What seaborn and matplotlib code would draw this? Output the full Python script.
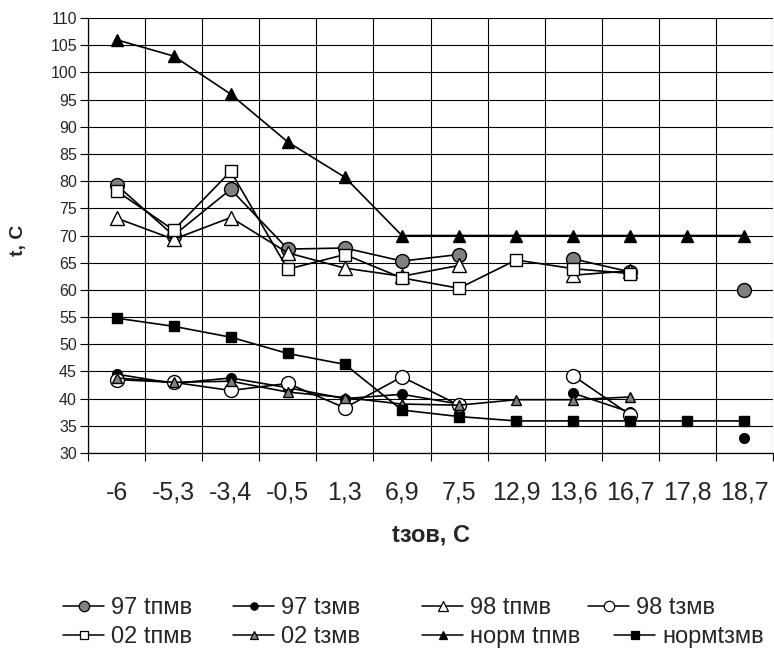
import numpy as np
import pandas as pd
import matplotlib
matplotlib.use('Agg')
import matplotlib.pyplot as plt
from matplotlib.lines import Line2D
from matplotlib.ticker import MultipleLocator, FixedLocator
import seaborn as sns

nan = np.nan

# outdoor temperature categories (x axis)
categories = ['-6', '-5,3', '-3,4', '-0,5', '1,3', '6,9', '7,5',
              '12,9', '13,6', '16,7', '17,8', '18,7']

# supply / return water temperatures
t97_p = [79.3, 70.0, 78.5, 67.5, 67.7, 65.3, 66.5, nan, 65.7, 63.3, nan, 60.0]
t97_z = [44.5, 42.8, 43.8, 42.0, 40.0, 40.8, 39.0, nan, 41.0, 37.5, nan, 32.8]
t98_p = [73.2, 69.3, 73.3, 66.8, 64.0, 62.5, 64.5, nan, 62.7, 63.5, nan, nan]
t98_z = [43.5, 43.0, 41.5, 42.8, 38.3, 44.0, 38.8, nan, 44.2, 37.0, nan, nan]
t02_p = [78.2, 71.0, 81.8, 63.8, 66.5, 62.2, 60.3, 65.5, 63.9, 63.0, nan, nan]
t02_z = [43.8, 43.0, 43.2, 41.2, 40.2, 39.0, 38.8, 39.8, 39.8, 40.3, nan, nan]
norm_p = [106.0, 103.0, 96.0, 87.2, 80.7, 70.0, 70.0, 70.0, 70.0, 70.0, 70.0, 70.0]
norm_z = [54.8, 53.3, 51.3, 48.3, 46.3, 37.9, 36.7, 35.9, 35.9, 35.9, 35.9, 35.9]

series_names = ['97 tпмв', '97 tзмв', '98 tпмв', '98 tзмв',
                '02 tпмв', '02 tзмв', 'норм tпмв', 'нормtзмв']
series_values = [t97_p, t97_z, t98_p, t98_z, t02_p, t02_z, norm_p, norm_z]

# marker, size, face colour
styles = {
    '97 tпмв': ('o', 10, '#808080'),
    '97 tзмв': ('o', 7, 'black'),
    '98 tпмв': ('^', 10, 'white'),
    '98 tзмв': ('o', 10, 'white'),
    '02 tпмв': ('s', 8.5, 'white'),
    '02 tзмв': ('^', 7.5, '#808080'),
    'норм tпмв': ('^', 8, 'black'),
    'нормtзмв': ('s', 7.5, 'black'),
}

# legend entry anchors in pixels (left of handle, row centre)
legend_pos = {
    '97 tпмв': (63, 608), '97 tзмв': (233, 608),
    '98 tпмв': (422, 608), '98 tзмв': (588, 608),
    '02 tпмв': (63, 637), '02 tзмв': (233, 637),
    'норм tпмв': (422, 637), 'нормtзмв': (614, 637),
}


def to_frame(name, values):
    # split series into runs so that gaps are not joined
    df = pd.DataFrame({'pos': np.arange(len(categories)), 't': values})
    df['seg'] = df['t'].isna().cumsum()
    df['series'] = name
    return df.dropna()


sns.set_style('white')
plt.rcParams['font.family'] = ['Liberation Sans', 'DejaVu Sans']

W, H = 774, 653
fig = plt.figure(figsize=(W / 100, H / 100), dpi=100)
ax = fig.add_axes([88 / W, 1 - 453 / H, 685 / W, 435 / H])

handles = {}
for name, vals in zip(series_names, series_values):
    m, ms, fc = styles[name]
    sub = to_frame(name, vals)
    sns.lineplot(data=sub, x='pos', y='t', units='seg', estimator=None,
                 color='black', linewidth=1.2, marker=m, markersize=ms,
                 markerfacecolor=fc, markeredgecolor='black',
                 markeredgewidth=1.0, ax=ax, legend=False)
    handles[name] = Line2D([], [], color='black', linewidth=1.1, marker=m,
                           markersize=ms * 0.75, markerfacecolor=fc,
                           markeredgecolor='black', markeredgewidth=0.9)

ax.set_xlim(-0.5, len(categories) - 0.5)
ax.set_ylim(30, 110)
ax.yaxis.set_major_locator(MultipleLocator(5))
ax.xaxis.set_major_locator(FixedLocator(np.arange(len(categories))))
ax.xaxis.set_minor_locator(FixedLocator(np.arange(len(categories) + 1) - 0.5))
ax.set_xticklabels(categories)

ax.grid(True, axis='y', which='major', color='black', linewidth=0.8)
ax.grid(True, axis='x', which='minor', color='black', linewidth=0.8)
ax.set_axisbelow(True)

for s in ['top', 'right']:
    ax.spines[s].set_visible(False)
for s in ['left', 'bottom']:
    ax.spines[s].set_color('black')
    ax.spines[s].set_linewidth(0.9)

ax.tick_params(axis='y', which='major', direction='out', length=6, width=0.8,
               color='black', labelsize=11.5, pad=2, left=True)
ax.tick_params(axis='x', which='major', length=0, labelsize=18, pad=20)
ax.tick_params(axis='x', which='minor', direction='out', length=6, width=0.8,
               color='black', bottom=True)

ax.set_xlabel('tзов, С', fontsize=17, fontweight='bold')
ax.xaxis.set_label_coords(0.5, -0.188)
ax.xaxis.label.set_verticalalignment('center')
ax.set_ylabel('t, С', fontsize=14, fontweight='bold')
ax.yaxis.set_label_coords(-0.102, 0.49)
ax.yaxis.label.set_verticalalignment('center')

# one legend per entry so each sits where it does in the original
for name in series_names:
    px, py = legend_pos[name]
    fig.legend([handles[name]], [name], loc='center left',
               bbox_to_anchor=(px / W, 1 - py / H), frameon=False,
               borderpad=0, borderaxespad=0, fontsize=17,
               handlelength=1.75, handletextpad=0.3)

fig.savefig('out.png', dpi=100)
